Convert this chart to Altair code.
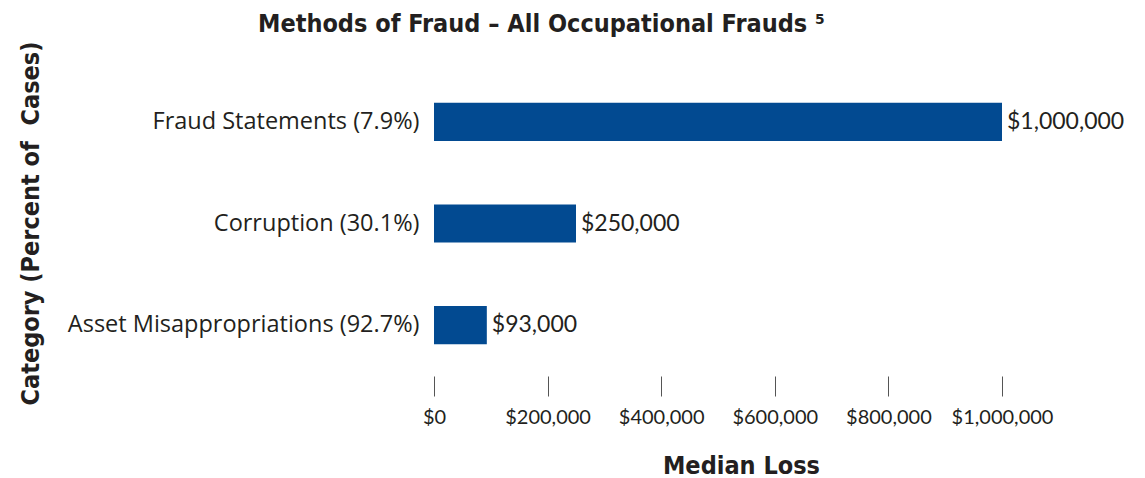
import altair as alt
import pandas as pd

categories = ["Fraud Statements (7.9%)", "Corruption (30.1%)", "Asset Misappropriations (92.7%)"]
median_loss = [1000000, 250000, 93000]
value_labels = ["$1,000,000", "$250,000", "$93,000"]
tick_values = [0, 200000, 400000, 600000, 800000, 1000000]

df = pd.DataFrame({"category": categories, "loss": median_loss, "label": value_labels})

BAR = "#024A91"
TXT = "#231F20"
LABEL_FONT = "Lato"
CAT_FONT = "Open Sans"
BOLD_FONT = "Liberation Sans Narrow, DejaVu Sans Condensed, Roboto"

y_enc = alt.Y(
    "category:N",
    sort=categories,
    scale=alt.Scale(paddingInner=0.625, paddingOuter=0.3125),
    axis=alt.Axis(
        title="Category (Percent of\u00a0 Cases)",
        titleFont=BOLD_FONT, titleFontSize=25, titleFontWeight="bold", titleColor=TXT,
        titleAngle=-90, titleX=-404, titleY=152, titleAlign="center", titleBaseline="middle",
        labelFont=CAT_FONT, labelFontSize=23.5, labelColor=TXT, labelPadding=15,
        labelLimit=0,
        ticks=False, domain=False, grid=False,
    ),
)
x_enc = alt.X(
    "loss:Q",
    scale=alt.Scale(domain=[0, 1000000], nice=False),
    axis=alt.Axis(
        values=tick_values, format="$,.0f",
        title="Median Loss",
        titleFont=BOLD_FONT, titleFontSize=25, titleFontWeight="bold", titleColor=TXT,
        titleX=307, titleY=89, titleAlign="center", titleBaseline="middle",
        labelFont=LABEL_FONT, labelFontSize=20, labelColor=TXT, labelPadding=11,
        labelOverlap=False, labelFlush=False,
        tickSize=20, tickColor="#555555", tickWidth=1,
        domain=False, grid=False,
    ),
)

bars = alt.Chart(df).mark_bar(color=BAR).encode(x=x_enc, y=y_enc)
texts = alt.Chart(df).mark_text(
    align="left", baseline="middle", dx=5, font=LABEL_FONT, fontSize=23, color=TXT
).encode(x="loss:Q", y=alt.Y("category:N", sort=categories), text="label:N")

chart = alt.layer(bars, texts).properties(
    width=568,
    height=305,
    autosize=alt.AutoSizeParams(type="none"),
    padding={"left": 426, "top": 63, "right": 135, "bottom": 106},
    title=alt.Title(
        "Methods of Fraud – All Occupational Frauds ⁵",
        anchor="start", frame="group", dx=-176, offset=4,
        font=BOLD_FONT, fontSize=25, fontWeight="bold", color=TXT,
    ),
).configure_view(stroke=None)

chart.save("out.html", embed_options={"renderer": "svg", "actions": False})
